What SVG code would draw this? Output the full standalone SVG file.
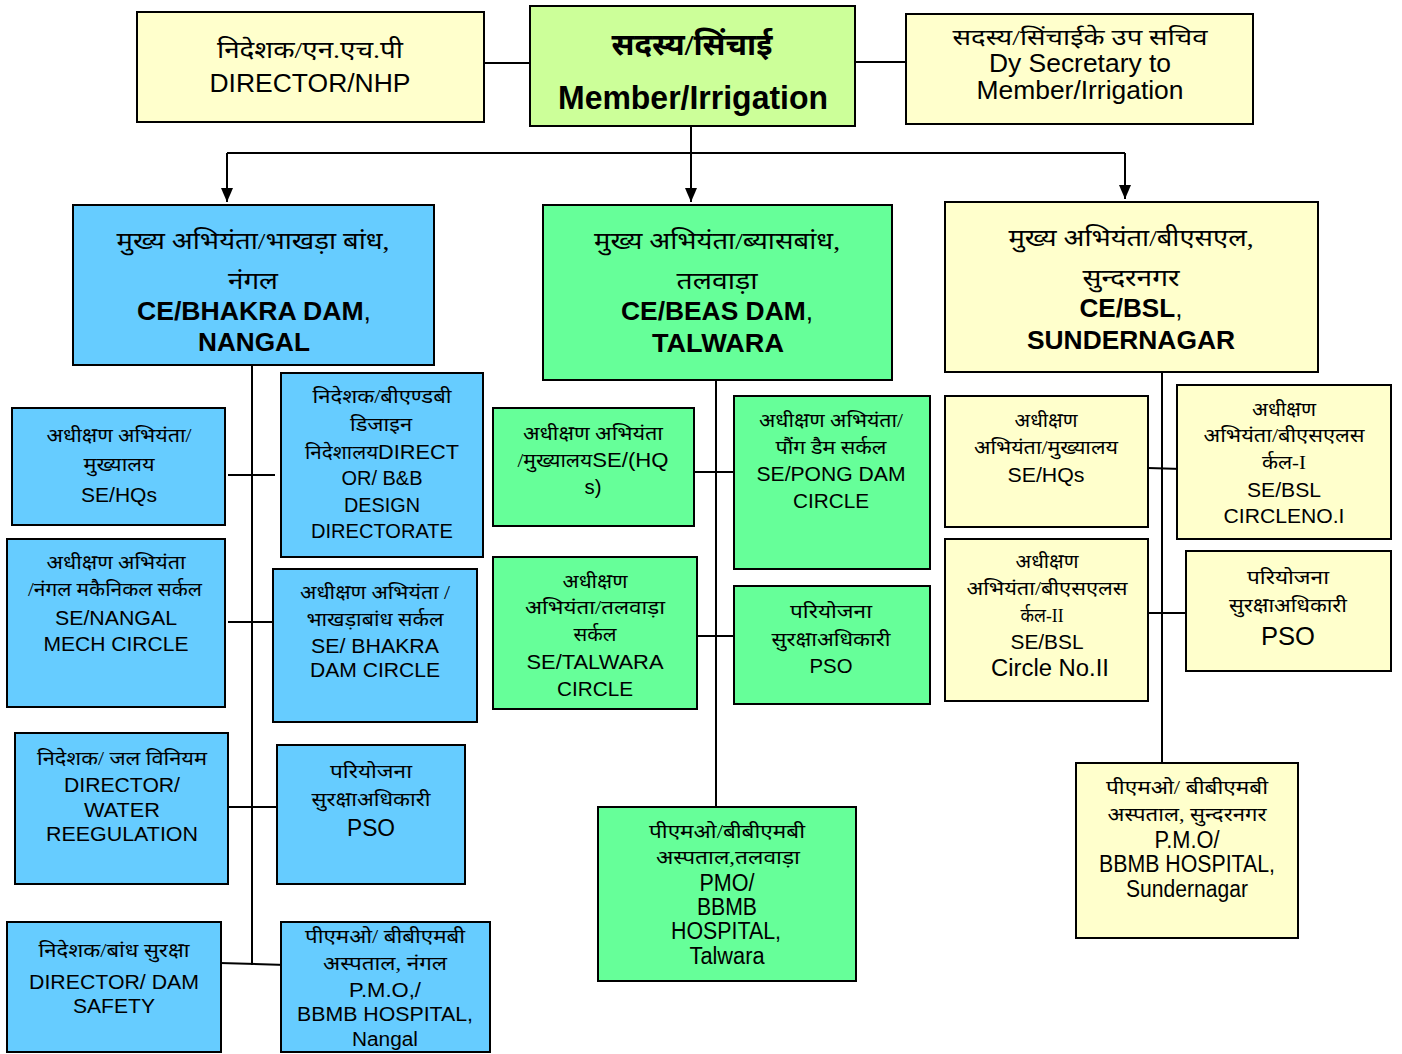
<svg xmlns="http://www.w3.org/2000/svg" width="1402" height="1054" viewBox="0 0 1402 1054">
<style>
rect{stroke:#000;stroke-width:2}
.yl{fill:#ffffcc}.lg{fill:#ccff99}.bl{fill:#66ccff}.gr{fill:#66ff99}
text{font-family:"Liberation Sans",Arial,sans-serif;font-size:20px;text-anchor:middle;fill:#000}
.h{font-family:"Liberation Serif","Noto Sans",serif;font-size:19px}
.hb{font-size:24px}
.ce{font-size:26px;font-weight:bold}
.nw{font-weight:normal}
.n{font-size:23px}
#conn path{fill:none;stroke:#000;stroke-width:2}
</style>
<defs>
<marker id="ah" markerUnits="userSpaceOnUse" markerWidth="14" markerHeight="12" refX="14" refY="6" orient="auto"><path d="M0,0 L14,6 L0,12 z" fill="#000"/></marker>
</defs>
<g id="conn">
<path d="M484 63H530"/>
<path d="M855 62H906"/>
<path d="M691 126V153"/>
<path d="M227 153H1125"/>
<path d="M227 153V202" marker-end="url(#ah)"/>
<path d="M691 153V202" marker-end="url(#ah)"/>
<path d="M1125 153V199" marker-end="url(#ah)"/>
<path d="M252 365V965"/>
<path d="M228 475H275"/>
<path d="M228 622H273"/>
<path d="M228 807H277"/>
<path d="M220 963L286 965"/>
<path d="M716 380V808"/>
<path d="M694 472H734"/>
<path d="M697 636H734"/>
<path d="M1162 372V763"/>
<path d="M1148 468L1182 469"/>
<path d="M1148 613H1186"/>
</g>
<g id="n-nhp"><rect class="yl" x="137" y="12" width="347" height="110"/>
<text class="h" style="font-size:24px" x="310" y="58" textLength="186" lengthAdjust="spacingAndGlyphs">निदेशक/एन.एच.पी</text>
<text style="font-size:25px" x="310" y="92" textLength="201" lengthAdjust="spacingAndGlyphs">DIRECTOR/NHP</text></g>
<g id="n-member"><rect class="lg" x="530" y="6" width="325" height="120"/>
<text class="h" style="font-size:30px;font-weight:bold" x="692" y="55" textLength="161" lengthAdjust="spacingAndGlyphs">सदस्य/सिंचाई</text>
<text style="font-size:33px;font-weight:bold" x="693" y="109" textLength="270" lengthAdjust="spacingAndGlyphs">Member/Irrigation</text></g>
<g id="n-dysec"><rect class="yl" x="906" y="14" width="347" height="110"/>
<text class="h" style="font-size:22px" x="1080" y="45" textLength="255" lengthAdjust="spacingAndGlyphs">सदस्य/सिंचाईके उप सचिव</text>
<text style="font-size:25px" x="1080" y="72" textLength="182" lengthAdjust="spacingAndGlyphs">Dy Secretary to</text>
<text style="font-size:25px" x="1080" y="99" textLength="207" lengthAdjust="spacingAndGlyphs">Member/Irrigation</text></g>

<g id="n-ce-bhakra"><rect class="bl" x="73" y="205" width="361" height="160"/>
<text class="h hb" x="253" y="249" textLength="273" lengthAdjust="spacingAndGlyphs">मुख्य अभियंता/भाखड़ा बांध,</text>
<text class="h hb" x="253" y="289" textLength="50" lengthAdjust="spacingAndGlyphs">नंगल</text>
<text class="ce" x="254" y="320" textLength="234" lengthAdjust="spacingAndGlyphs">CE/BHAKRA DAM<tspan class="nw">,</tspan></text>
<text class="ce" x="254" y="351" textLength="112" lengthAdjust="spacingAndGlyphs">NANGAL</text></g>
<g id="n-ce-beas"><rect class="gr" x="543" y="205" width="349" height="175"/>
<text class="h hb" x="717" y="249" textLength="246" lengthAdjust="spacingAndGlyphs">मुख्य अभियंता/ब्यासबांध,</text>
<text class="h hb" x="717" y="289" textLength="81" lengthAdjust="spacingAndGlyphs">तलवाड़ा</text>
<text class="ce" x="717" y="320" textLength="192" lengthAdjust="spacingAndGlyphs">CE/BEAS DAM<tspan class="nw">,</tspan></text>
<text class="ce" x="718" y="352" textLength="132" lengthAdjust="spacingAndGlyphs">TALWARA</text></g>
<g id="n-ce-bsl"><rect class="yl" x="945" y="202" width="373" height="170"/>
<text class="h hb" x="1131" y="246" textLength="245" lengthAdjust="spacingAndGlyphs">मुख्य अभियंता/बीएसएल,</text>
<text class="h hb" x="1131" y="286" textLength="97" lengthAdjust="spacingAndGlyphs">सुन्दरनगर</text>
<text class="ce" x="1131" y="317" textLength="103" lengthAdjust="spacingAndGlyphs">CE/BSL<tspan class="nw">,</tspan></text>
<text class="ce" x="1131" y="349" textLength="208" lengthAdjust="spacingAndGlyphs">SUNDERNAGAR</text></g>

<g id="n-l-sehq"><rect class="bl" x="12" y="408" width="213" height="117"/>
<text class="h" x="119" y="442" textLength="145" lengthAdjust="spacingAndGlyphs">अधीक्षण अभियंता/</text>
<text class="h" x="119" y="471" textLength="71" lengthAdjust="spacingAndGlyphs">मुख्यालय</text>
<text x="119" y="502" textLength="76" lengthAdjust="spacingAndGlyphs">SE/HQs</text></g>
<g id="n-l-bb"><rect class="bl" x="281" y="373" width="202" height="184"/>
<text class="h" x="382" y="403" textLength="139" lengthAdjust="spacingAndGlyphs">निदेशक/बीएण्डबी</text>
<text class="h" x="381" y="431" textLength="62" lengthAdjust="spacingAndGlyphs">डिजाइन</text>
<text x="382" y="459" textLength="154" lengthAdjust="spacingAndGlyphs"><tspan class="h">निदेशालय</tspan>DIRECT</text>
<text x="382" y="485" textLength="81" lengthAdjust="spacingAndGlyphs">OR/ B&amp;B</text>
<text x="382" y="512" textLength="76" lengthAdjust="spacingAndGlyphs">DESIGN</text>
<text x="382" y="538" textLength="142" lengthAdjust="spacingAndGlyphs">DIRECTORATE</text></g>
<g id="n-l-mech"><rect class="bl" x="7" y="539" width="218" height="168"/>
<text class="h" x="116" y="569" textLength="139" lengthAdjust="spacingAndGlyphs">अधीक्षण अभियंता</text>
<text class="h" x="115" y="596" textLength="174" lengthAdjust="spacingAndGlyphs">/नंगल मकैनिकल सर्कल</text>
<text x="116" y="625" textLength="122" lengthAdjust="spacingAndGlyphs">SE/NANGAL</text>
<text x="116" y="651" textLength="145" lengthAdjust="spacingAndGlyphs">MECH CIRCLE</text></g>
<g id="n-l-bhakra"><rect class="bl" x="273" y="569" width="204" height="153"/>
<text class="h" x="375" y="599" textLength="150" lengthAdjust="spacingAndGlyphs">अधीक्षण अभियंता /</text>
<text class="h" x="375" y="626" textLength="137" lengthAdjust="spacingAndGlyphs">भाखड़ाबांध सर्कल</text>
<text x="375" y="653" textLength="128" lengthAdjust="spacingAndGlyphs">SE/ BHAKRA</text>
<text x="375" y="677" textLength="130" lengthAdjust="spacingAndGlyphs">DAM CIRCLE</text></g>
<g id="n-l-water"><rect class="bl" x="15" y="733" width="213" height="151"/>
<text class="h" x="122" y="765" textLength="170" lengthAdjust="spacingAndGlyphs">निदेशक/ जल विनियम</text>
<text x="122" y="792" textLength="116" lengthAdjust="spacingAndGlyphs">DIRECTOR/</text>
<text x="122" y="817" textLength="76" lengthAdjust="spacingAndGlyphs">WATER</text>
<text x="122" y="841" textLength="152" lengthAdjust="spacingAndGlyphs">REEGULATION</text></g>
<g id="n-l-pso"><rect class="bl" x="277" y="745" width="188" height="139"/>
<text class="h" x="371" y="778" textLength="82" lengthAdjust="spacingAndGlyphs">परियोजना</text>
<text class="h" x="371" y="806" textLength="119" lengthAdjust="spacingAndGlyphs">सुरक्षाअधिकारी</text>
<text style="font-size:23px" x="371" y="836" textLength="48" lengthAdjust="spacingAndGlyphs">PSO</text></g>
<g id="n-l-dam"><rect class="bl" x="7" y="922" width="214" height="130"/>
<text class="h" x="114" y="957" textLength="151" lengthAdjust="spacingAndGlyphs">निदेशक/बांध सुरक्षा</text>
<text x="114" y="989" textLength="170" lengthAdjust="spacingAndGlyphs">DIRECTOR/ DAM</text>
<text x="114" y="1013" textLength="82" lengthAdjust="spacingAndGlyphs">SAFETY</text></g>
<g id="n-l-pmo"><rect class="bl" x="281" y="922" width="209" height="130"/>
<text class="h" x="385" y="943" textLength="160" lengthAdjust="spacingAndGlyphs">पीएमओ/ बीबीएमबी</text>
<text class="h" x="385" y="970" textLength="124" lengthAdjust="spacingAndGlyphs">अस्पताल,  नंगल</text>
<text x="385" y="997" textLength="72" lengthAdjust="spacingAndGlyphs">P.M.O,/</text>
<text x="385" y="1021" textLength="176" lengthAdjust="spacingAndGlyphs">BBMB HOSPITAL,</text>
<text x="385" y="1046" textLength="66" lengthAdjust="spacingAndGlyphs">Nangal</text></g>

<g id="n-m-sehq"><rect class="gr" x="493" y="408" width="201" height="118"/>
<text class="h" x="593" y="440" textLength="140" lengthAdjust="spacingAndGlyphs">अधीक्षण अभियंता</text>
<text x="593" y="467" textLength="151" lengthAdjust="spacingAndGlyphs"><tspan class="h">/मुख्यालय</tspan>SE/(HQ</text>
<text x="593" y="494" textLength="17" lengthAdjust="spacingAndGlyphs">s)</text></g>
<g id="n-m-pong"><rect class="gr" x="734" y="396" width="196" height="173"/>
<text class="h" x="831" y="427" textLength="144" lengthAdjust="spacingAndGlyphs">अधीक्षण अभियंता/</text>
<text class="h" x="831" y="454" textLength="111" lengthAdjust="spacingAndGlyphs">पौंग डैम सर्कल</text>
<text x="831" y="481" textLength="149" lengthAdjust="spacingAndGlyphs">SE/PONG DAM</text>
<text x="831" y="508" textLength="76" lengthAdjust="spacingAndGlyphs">CIRCLE</text></g>
<g id="n-m-talwara"><rect class="gr" x="493" y="557" width="204" height="152"/>
<text class="h" x="595" y="588" textLength="65" lengthAdjust="spacingAndGlyphs">अधीक्षण</text>
<text class="h" x="595" y="614" textLength="140" lengthAdjust="spacingAndGlyphs">अभियंता/तलवाड़ा</text>
<text class="h" x="595" y="641" textLength="43" lengthAdjust="spacingAndGlyphs">सर्कल</text>
<text x="595" y="669" textLength="137" lengthAdjust="spacingAndGlyphs">SE/TALWARA</text>
<text x="595" y="696" textLength="76" lengthAdjust="spacingAndGlyphs">CIRCLE</text></g>
<g id="n-m-pso"><rect class="gr" x="734" y="586" width="196" height="118"/>
<text class="h" x="831" y="618" textLength="82" lengthAdjust="spacingAndGlyphs">परियोजना</text>
<text class="h" x="831" y="646" textLength="119" lengthAdjust="spacingAndGlyphs">सुरक्षाअधिकारी</text>
<text x="831" y="673" textLength="43" lengthAdjust="spacingAndGlyphs">PSO</text></g>
<g id="n-m-pmo"><rect class="gr" x="598" y="807" width="258" height="174"/>
<text class="h" x="727" y="838" textLength="156" lengthAdjust="spacingAndGlyphs">पीएमओ/बीबीएमबी</text>
<text class="h" x="728" y="864" textLength="144" lengthAdjust="spacingAndGlyphs">अस्पताल,तलवाड़ा</text>
<text class="n" x="727" y="891" textLength="55" lengthAdjust="spacingAndGlyphs">PMO/</text>
<text class="n" x="727" y="915" textLength="60" lengthAdjust="spacingAndGlyphs">BBMB</text>
<text class="n" x="726" y="939" textLength="110" lengthAdjust="spacingAndGlyphs">HOSPITAL,</text>
<text class="n" x="727" y="964" textLength="75" lengthAdjust="spacingAndGlyphs">Talwara</text></g>

<g id="n-r-sehq"><rect class="yl" x="945" y="396" width="203" height="131"/>
<text class="h" x="1046" y="427" textLength="63" lengthAdjust="spacingAndGlyphs">अधीक्षण</text>
<text class="h" x="1046" y="454" textLength="144" lengthAdjust="spacingAndGlyphs">अभियंता/मुख्यालय</text>
<text x="1046" y="482" textLength="77" lengthAdjust="spacingAndGlyphs">SE/HQs</text></g>
<g id="n-r-c1"><rect class="yl" x="1177" y="385" width="214" height="154"/>
<text class="h" x="1284" y="416" textLength="64" lengthAdjust="spacingAndGlyphs">अधीक्षण</text>
<text class="h" x="1284" y="442" textLength="161" lengthAdjust="spacingAndGlyphs">अभियंता/बीएसएलस</text>
<text class="h" x="1284" y="469" textLength="44" lengthAdjust="spacingAndGlyphs">र्कल-I</text>
<text x="1284" y="497" textLength="74" lengthAdjust="spacingAndGlyphs">SE/BSL</text>
<text x="1284" y="523" textLength="121" lengthAdjust="spacingAndGlyphs">CIRCLENO.I</text></g>
<g id="n-r-c2"><rect class="yl" x="945" y="539" width="203" height="162"/>
<text class="h" x="1047" y="568" textLength="63" lengthAdjust="spacingAndGlyphs">अधीक्षण</text>
<text class="h" x="1047" y="595" textLength="161" lengthAdjust="spacingAndGlyphs">अभियंता/बीएसएलस</text>
<text class="h" x="1042" y="622" textLength="43" lengthAdjust="spacingAndGlyphs">र्कल-II</text>
<text x="1047" y="649" textLength="73" lengthAdjust="spacingAndGlyphs">SE/BSL</text>
<text style="font-size:23px" x="1050" y="676" textLength="118" lengthAdjust="spacingAndGlyphs">Circle No.II</text></g>
<g id="n-r-pso"><rect class="yl" x="1186" y="551" width="205" height="120"/>
<text class="h" x="1288" y="584" textLength="82" lengthAdjust="spacingAndGlyphs">परियोजना</text>
<text class="h" x="1288" y="612" textLength="118" lengthAdjust="spacingAndGlyphs">सुरक्षाअधिकारी</text>
<text style="font-size:26px" x="1288" y="645" textLength="54" lengthAdjust="spacingAndGlyphs">PSO</text></g>
<g id="n-r-pmo"><rect class="yl" x="1076" y="763" width="222" height="175"/>
<text class="h" x="1187" y="794" textLength="162" lengthAdjust="spacingAndGlyphs">पीएमओ/ बीबीएमबी</text>
<text class="h" x="1187" y="821" textLength="159" lengthAdjust="spacingAndGlyphs">अस्पताल, सुन्दरनगर</text>
<text class="n" x="1187" y="848" textLength="65" lengthAdjust="spacingAndGlyphs">P.M.O/</text>
<text class="n" x="1187" y="872" textLength="176" lengthAdjust="spacingAndGlyphs">BBMB HOSPITAL,</text>
<text class="n" x="1187" y="897" textLength="122" lengthAdjust="spacingAndGlyphs">Sundernagar</text></g>
</svg>
